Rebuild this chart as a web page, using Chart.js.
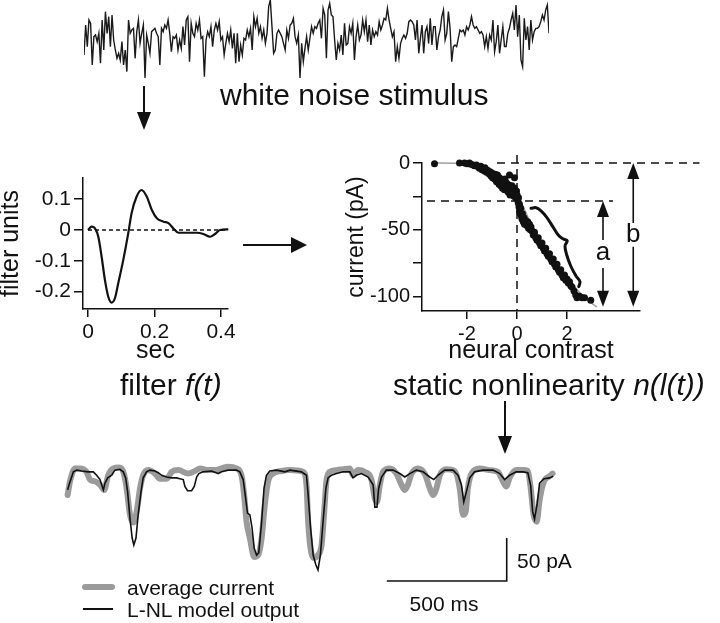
<!DOCTYPE html>
<html>
<head>
<meta charset="utf-8">
<script src="https://cdn.jsdelivr.net/npm/chart.js@4.4.0/dist/chart.umd.min.js"></script>
<style>
body { margin:0; background:#fff; width:720px; height:623px; position:relative; overflow:hidden;
  font-family:"Liberation Sans", Arial, Helvetica, sans-serif; color:#111; }
.box { position:absolute; }
.box canvas { display:block; }
.lbl { position:absolute; white-space:nowrap; line-height:1; }
.big { font-size:30px; }
.small { font-size:21px; }
.vshaft { position:absolute; width:2px; background:#111; }
.hshaft { position:absolute; height:2px; background:#111; }
.head-down { position:absolute; width:0; height:0; border-left:7px solid transparent; border-right:7px solid transparent; border-top:18px solid #111; }
.head-right { position:absolute; width:0; height:0; border-top:8px solid transparent; border-bottom:8px solid transparent; border-left:16px solid #111; }
</style>
</head>
<body>

<div class="box" style="left:84px;top:0;width:465px;height:80px"><canvas id="noise" width="465" height="80"></canvas></div>
<div class="vshaft" style="left:143px;top:86px;height:28px"></div>
<div class="head-down" style="left:137px;top:112px"></div>
<div class="lbl big" style="left:220px;top:80px">white noise stimulus</div>

<div class="box" style="left:0;top:160px;width:245px;height:210px"><canvas id="filter" width="245" height="210"></canvas></div>
<div class="hshaft" style="left:243px;top:244px;width:50px"></div>
<div class="head-right" style="left:291px;top:237px"></div>
<div class="box" style="left:320px;top:140px;width:400px;height:235px"><canvas id="nonlin" width="400" height="235"></canvas></div>

<div class="lbl big" style="left:120px;top:370px">filter <i>f(t)</i></div>
<div class="lbl big" style="left:393px;top:370px">static nonlinearity <i>n(l(t))</i></div>
<div class="vshaft" style="left:504px;top:401px;height:37px"></div>
<div class="head-down" style="left:498px;top:436px"></div>

<div class="box" style="left:55px;top:450px;width:510px;height:140px"><canvas id="trace" width="510" height="140"></canvas></div>
<div class="lbl small" style="left:517px;top:550px">50 pA</div>
<div class="lbl small" style="left:444px;top:593px;transform:translateX(-50%)">500 ms</div>
<div class="box" style="left:82px;top:584px;width:33px;height:6px;background:#9b9b9b;border-radius:3px"></div>
<div class="box" style="left:83px;top:608px;width:30px;height:2px;background:#111"></div>
<div class="lbl small" style="left:127px;top:577px">average current</div>
<div class="lbl small" style="left:127px;top:599px">L-NL model output</div>

<script>
// stimulus, arbitrary units, one value per sample
var noiseValues = [-60,30,-35,45,35,-90,-5,0,-20,5,-85,45,-45,70,5,55,-35,60,-15,-45,-70,-55,-75,-20,-90,-45,-110,45,5,15,20,-70,10,45,-25,5,30,-129,0,-25,-55,10,15,20,5,-5,-90,20,10,30,20,45,5,-50,-5,-10,0,-45,-15,-40,25,-30,45,55,-80,35,5,-5,35,15,45,-10,-5,-125,-15,10,-5,25,-35,15,35,15,40,-15,-5,-60,-25,5,-20,15,-40,5,-85,5,-80,-30,-60,-10,-15,15,-5,20,-45,55,25,50,5,25,-10,15,-25,5,85,105,25,-55,-45,5,15,5,-5,-25,-45,15,-10,30,35,50,-5,-25,0,-129,-25,-80,-40,-5,-45,-10,25,5,25,20,35,45,-10,80,60,-70,75,95,60,55,-15,-75,-25,-45,0,-60,35,-30,-25,25,5,35,-75,-5,30,-15,0,45,10,45,-20,30,-30,15,-5,10,0,40,15,30,50,45,80,45,20,-5,10,-80,-35,-70,-25,-10,0,-10,5,40,45,40,30,-15,45,-55,-10,30,-55,10,25,-25,50,-30,25,25,-45,-5,15,55,75,-15,5,70,20,-80,-35,-30,-35,-10,15,10,15,0,25,15,30,55,30,20,25,15,5,10,0,-35,-5,-40,0,-15,45,-50,-20,30,-55,-15,25,-35,-35,5,20,45,65,15,90,-5,60,-75,-95,50,-15,25,-45,45,-15,10,20,20,25,40,60,45,75,90,5];

// linear filter
var filterTime = [0,0.011,0.021,0.031,0.041,0.051,0.061,0.071,0.081,0.091,0.106,0.121,0.131,0.146,0.161,0.177,0.192,0.207,0.227,0.242,0.257,0.272,0.297,0.327,0.347,0.367,0.382,0.397,0.422];
var filterValue = [0,0.011,0.005,-0.022,-0.087,-0.163,-0.217,-0.236,-0.222,-0.173,-0.098,-0.011,0.054,0.108,0.13,0.108,0.065,0.038,0.027,0.022,0.005,-0.009,-0.009,-0.009,-0.013,-0.022,-0.013,0,0.002];
var filterXTicks = [0, 0.2, 0.4];
var filterYTicks = [0.1, 0, -0.1, -0.2];

// static nonlinearity
var dotContrast = [-3.3,-2.3,-2.1,-2.0,-1.9,-1.85,-1.75,-1.7,-1.62,-1.55,-1.5,-1.45,-1.4,-1.35,-1.3,-1.28,-1.22,-1.18,-1.12,-1.08,-1.05,-1.0,-0.98,-0.95,-0.9,-0.88,-0.85,-0.82,-0.8,-0.78,-0.75,-0.72,-0.7,-0.68,-0.65,-0.62,-0.6,-0.58,-0.55,-0.52,-0.5,-0.48,-0.45,-0.42,-0.4,-0.38,-0.35,-0.32,-0.3,-0.28,-0.25,-0.22,-0.2,-0.18,-0.15,-0.12,-0.1,-0.08,-0.05,-0.02,0.0,0.03,-0.1,-0.3,0.05,0.06,0.08,0.1,0.1,0.13,0.15,0.18,0.2,0.22,0.25,0.28,0.3,0.33,0.36,0.4,0.43,0.46,0.5,0.53,0.56,0.6,0.65,0.7,0.75,0.8,0.85,0.9,0.95,1.0,1.05,1.1,1.15,1.2,1.25,1.3,1.35,1.4,1.45,1.5,1.55,1.6,1.65,1.7,1.75,1.8,1.85,1.9,1.95,2.0,2.05,2.1,2.15,2.2,2.28,2.35,2.4,2.5,2.6,2.7,2.95];
var dotCurrent = [-0.5,0,0,-0.5,0,-1,-1.5,-2,-1.5,-3,-4,-2.5,-5,-4,-6,-3.5,-7,-5.5,-8,-6.5,-9.5,-7.5,-11,-9,-12,-8.5,-10.5,-14,-11.5,-9,-13,-16,-11,-14.5,-17,-12.5,-15.5,-19,-13.5,-16.5,-20,-12,-17.5,-15,-20.5,-18,-22,-16.5,-20,-24,-18.5,-21.5,-17,-23,-20,-25,-19,-22.5,-26,-21,-24,-28,-11,-9,-30,-26,-33,-36,-31,-38,-34,-40,-42,-38,-44,-41,-46,-43,-45,-47,-44,-49,-46,-50,-48,-51,-54,-52,-56,-58,-56,-60,-62,-60,-64,-66,-64,-68,-70,-68,-72,-74,-72,-76,-78,-76,-80,-82,-80,-84,-86,-84,-88,-87,-90,-89,-92,-93,-96,-99,-101,-100,-101,-101,-103];
var fitContrast = [-3.3,-2.5,-2,-1.5,-1,-0.5,0,0.3,0.6,1,1.5,2,2.5,2.9,3.2];
var fitCurrent = [0,-0.2,-0.8,-3,-8,-15,-24,-35,-47,-59,-73,-86,-97,-104,-108];
var braceContrast = [0.56,0.76,0.95,1.19,1.45,1.65,1.83,2.01,1.92,1.99,2.15,2.36,2.52,2.47];
var braceCurrent = [-34,-33.5,-35.75,-40.75,-48.25,-54,-56.75,-58.25,-62.25,-69,-77.25,-84.75,-89,-92.75];
var restLevel = 0, halfLevel = -28.5, peakLevel = -107.75;
var nlXTicks = [-2, 0, 2];
var nlYTicks = [-100, -75, -50, -25, 0];
var rangeArrows = [
	{x: 3.44, top: halfLevel, bottom: peakLevel, gapTop: -57.75, gapBottom: -78.75, label: "a", labelY: -67.5},
	{x: 4.65, top: restLevel, bottom: peakLevel, gapTop: -45, gapBottom: -62.75, label: "b", labelY: -54}
];

// response traces, ms and pA
var blackTime = [11,17,35,49,70,97,118,132,146,160,167,178,195,208,229,243,253,261,271,280,287,296,305,317,326,340,354,375,389,403,424,445,465,479,493,500,511,528,539,549,558,576,611,639,653,680,715,729,743,753,761,771,780,789,799,808,820,830,840,854,882,917,938,986,1007,1014,1024,1035,1046,1055,1065,1076,1088,1097,1111,1132,1160,1188,1201,1215,1236,1264,1285,1292,1301,1308,1320,1340,1368,1396,1417,1438,1465,1493,1521,1538,1555,1583,1618,1639,1653,1663,1674,1688,1708,1743,1785,1813,1833,1854,1882,1910,1930,1942,1950,1958,1969,1979,1998,2021,2036];
var blackCurrent = [-22,-16,-1,1,0,-1,-1,-5,-10,-22,-14,-8,-5,1,2,-1,-8,-24,-55,-78,-86,-78,-51,-24,-8,-1,1,0,-2,-5,-7,-8,-8,-9,-10,-18,-23,-23,-18,-7,-3,-1,0,-3,-1,1,1,-1,-10,-31,-49,-51,-66,-90,-98,-95,-59,-20,-5,0,1,-1,1,-1,-5,-28,-66,-98,-109,-115,-98,-59,-20,-8,-5,-3,-1,-1,-8,-5,-3,-7,-16,-42,-42,-20,-7,1,1,-3,-7,-3,1,-1,-7,-10,-5,1,1,-5,-16,-36,-24,-8,-1,1,1,-3,-10,-5,-1,-1,-2,-17,-47,-56,-38,-14,-9,-8,-6];
var grayTime = [11,21,42,63,90,104,125,146,164,180,201,225,243,257,271,285,299,313,326,347,375,396,424,445,472,514,542,563,597,625,653,680,715,736,747,757,771,789,805,820,833,847,868,903,938,993,1007,1014,1024,1038,1055,1070,1080,1090,1104,1132,1160,1188,1201,1222,1250,1278,1292,1301,1313,1326,1354,1382,1403,1417,1430,1445,1472,1500,1521,1535,1549,1563,1590,1625,1646,1660,1671,1680,1695,1729,1771,1805,1826,1840,1854,1882,1910,1930,1942,1954,1967,1979,1996,2021,2033];
var grayCurrent = [-28,-12,3,3,-1,-10,-12,-16,-22,-5,3,4,-1,-20,-51,-60,-47,-20,-5,1,-3,-9,-9,-1,1,-3,0,3,1,1,3,5,3,-5,-28,-59,-78,-100,-98,-78,-40,-12,-3,0,1,-1,-16,-59,-90,-101,-98,-86,-51,-12,-1,1,2,3,-5,1,-1,-10,-32,-36,-16,-1,3,-3,-16,-22,-16,-3,3,-3,-20,-28,-20,-5,2,0,-20,-51,-47,-20,-3,3,1,-1,-12,-18,-8,1,1,0,-20,-51,-59,-34,-13,-6,-3];
var scaleBarTime = [1342, 1842, 1842];
var scaleBarCurrent = [-128, -128, -78];

Chart.defaults.font.family = '"Liberation Sans", Arial, Helvetica, sans-serif';
Chart.defaults.color = "#111";
Chart.defaults.animation = false;
Chart.defaults.plugins.legend.display = false;
Chart.defaults.plugins.tooltip.enabled = false;

function toPoints(xs, ys) {
	return xs.map(function(x, i) { return {x: x, y: ys[i]}; });
}

function lineSet(data, color, width, extra) {
	var ds = {data: data, borderColor: color, borderWidth: width, pointRadius: 0, fill: false, tension: 0, clip: false};
	for (var k in extra) ds[k] = extra[k];
	return ds;
}

// Igor-style axis: outside ticks, no grid
function igorAxis(o) {
	return {
		type: "linear",
		min: o.min,
		max: o.max,
		border: {display: true, color: "#111", width: 1.5},
		grid: {display: true, drawOnChartArea: false, drawTicks: true, tickLength: o.tickLength, color: "#111", lineWidth: 1.5},
		afterBuildTicks: function(axis) {
			axis.ticks = o.ticks.map(function(v) { return {value: v}; });
		},
		afterFit: function(axis) {
			if (o.width) axis.width = o.width;
			if (o.height) axis.height = o.height;
		},
		ticks: {font: {size: o.fontSize}, color: "#111", padding: 3, callback: o.label || function(v) { return String(v); }},
		title: {display: true, text: o.title, color: "#111", font: {size: o.titleSize, lineHeight: o.titleLineHeight || 1.2}, padding: o.titlePadding}
	};
}

var rangeArrowPlugin = {
	id: "rangeArrows",
	afterDatasetsDraw: function(chart, args, opts) {
		var xs = chart.scales.x, ys = chart.scales.y, ctx = chart.ctx;
		ctx.save();
		ctx.strokeStyle = "#111";
		ctx.fillStyle = "#111";
		ctx.lineWidth = 1.6;
		opts.arrows.forEach(function(a) {
			var px = xs.getPixelForValue(a.x);
			var top = ys.getPixelForValue(a.top), bot = ys.getPixelForValue(a.bottom);
			ctx.beginPath();
			ctx.moveTo(px, top + 10);
			ctx.lineTo(px, ys.getPixelForValue(a.gapTop));
			ctx.moveTo(px, ys.getPixelForValue(a.gapBottom));
			ctx.lineTo(px, bot - 10);
			ctx.stroke();
			ctx.beginPath();
			ctx.moveTo(px, top); ctx.lineTo(px - 6, top + 16); ctx.lineTo(px + 6, top + 16); ctx.closePath();
			ctx.moveTo(px, bot); ctx.lineTo(px - 6, bot - 16); ctx.lineTo(px + 6, bot - 16); ctx.closePath();
			ctx.fill();
			ctx.font = '26px "Liberation Sans", Arial, sans-serif';
			ctx.textAlign = "center";
			ctx.textBaseline = "middle";
			ctx.fillText(a.label, px, ys.getPixelForValue(a.labelY));
		});
		ctx.restore();
	}
};

// white noise
new Chart(document.getElementById("noise"), {
	type: "line",
	data: {datasets: [lineSet(noiseValues.map(function(v, i) { return {x: i, y: v}; }), "#1a1a1a", 1.4, {})]},
	options: {
		responsive: false,
		layout: {padding: 0},
		scales: {
			x: {type: "linear", display: false, min: 0, max: noiseValues.length - 1},
			y: {display: false, min: -135, max: 105}
		}
	}
});

// filter f(t)
new Chart(document.getElementById("filter"), {
	type: "line",
	data: {
		datasets: [
			lineSet(toPoints(filterTime, filterValue), "#111", 2.2, {cubicInterpolationMode: "monotone"}),
			lineSet([{x: 0, y: 0}, {x: 0.421, y: 0}], "#111", 1.5, {borderDash: [4, 3]})
		]
	},
	options: {
		responsive: false,
		layout: {padding: {left: 0, top: 18, right: 17, bottom: 0}},
		scales: {
			x: igorAxis({min: -0.015, max: 0.421, ticks: filterXTicks, tickLength: 8, fontSize: 21, height: 61,
				title: "sec", titleSize: 25, titlePadding: {top: 0, bottom: 4}}),
			y: igorAxis({min: -0.257, max: 0.169, ticks: filterYTicks, tickLength: 9, fontSize: 21, width: 83,
				title: "filter units", titleSize: 25, titleLineHeight: 0.85, titlePadding: {top: 0, bottom: 0}})
		}
	}
});

// static nonlinearity
new Chart(document.getElementById("nonlin"), {
	type: "line",
	data: {
		datasets: [
			{data: toPoints(dotContrast, dotCurrent), showLine: false, pointRadius: 3.5, pointBackgroundColor: "#111", pointBorderWidth: 0, clip: false},
			lineSet(toPoints(braceContrast, braceCurrent), "#111", 3, {tension: 0.35, borderCapStyle: "round"}),
			lineSet([{x: -0.8, y: restLevel}, {x: 7.3, y: restLevel}], "#111", 1.5, {borderDash: [8, 6]}),
			lineSet([{x: -3.6, y: halfLevel}, {x: 3.84, y: halfLevel}], "#111", 1.5, {borderDash: [8, 6]}),
			lineSet([{x: 0, y: 6}, {x: 0, y: -111}], "#111", 1.5, {borderDash: [8, 6]}),
			lineSet(toPoints(fitContrast, fitCurrent), "#a0a0a0", 1.5, {cubicInterpolationMode: "monotone"})
		]
	},
	options: {
		responsive: false,
		layout: {padding: {left: 20, top: 23, right: 80, bottom: 0}},
		plugins: {rangeArrows: {arrows: rangeArrows}},
		scales: {
			x: igorAxis({min: -3.8, max: 4.92, ticks: nlXTicks, tickLength: 8, fontSize: 20, height: 64,
				title: "neural contrast", titleSize: 25, titlePadding: {top: 0, bottom: 9}}),
			y: igorAxis({min: -111, max: 0, ticks: nlYTicks, tickLength: 9, fontSize: 20, width: 82,
				title: "current (pA)", titleSize: 23, titlePadding: {top: 3, bottom: 0},
				label: function(v) { return v % 50 === 0 ? String(v) : ""; }})
		}
	},
	plugins: [rangeArrowPlugin]
});

// measured vs model response
new Chart(document.getElementById("trace"), {
	type: "line",
	data: {
		datasets: [
			lineSet(toPoints(scaleBarTime, scaleBarCurrent), "#111", 1.6, {}),
			lineSet(toPoints(blackTime, blackCurrent), "#111", 1.6, {}),
			lineSet(toPoints(grayTime, grayCurrent), "#9b9b9b", 6, {cubicInterpolationMode: "monotone", borderJoinStyle: "round", borderCapStyle: "round"})
		]
	},
	options: {
		responsive: false,
		layout: {padding: {left: 10, right: 12, top: 0, bottom: 0}},
		scales: {
			x: {type: "linear", display: false, min: 0, max: 2035},
			y: {display: false, min: -138.4, max: 24.4}
		}
	}
});
</script>
</body>
</html>
